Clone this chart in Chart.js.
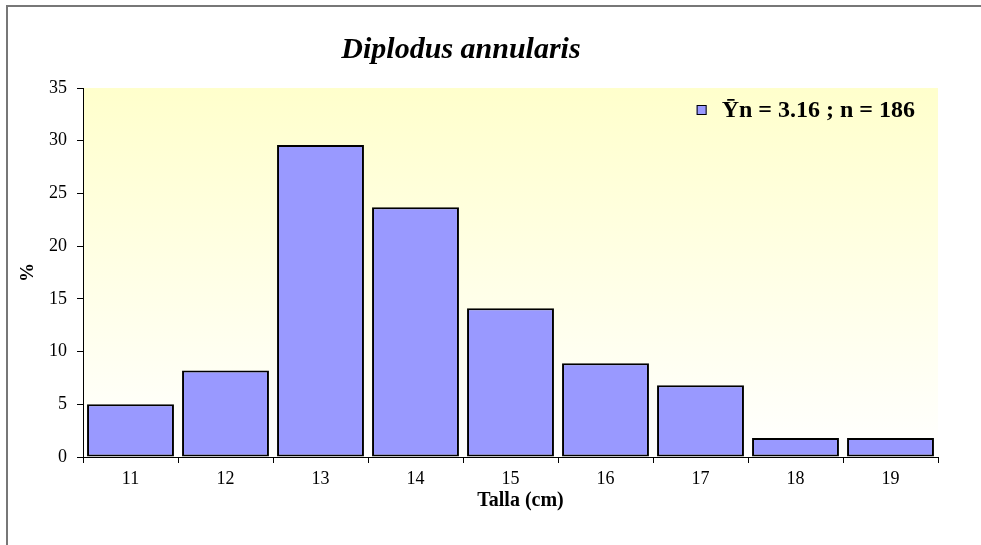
<!DOCTYPE html>
<html>
<head>
<meta charset="utf-8">
<title>Diplodus annularis</title>
<script src="https://cdn.jsdelivr.net/npm/chart.js@4.4.1/dist/chart.umd.min.js"></script>
<style>
    html, body { margin: 0; padding: 0; background: #fff; }
    #wrap { position: relative; width: 981px; height: 545px; overflow: hidden; }
    #frame {
        position: absolute; left: 6px; top: 5px; width: 1000px; height: 600px;
        border-left: 2px solid #777; border-top: 2px solid #777;
        pointer-events: none;
    }
</style>
</head>
<body>
<div id="wrap">
    <canvas id="chart" width="981" height="545"></canvas>
    <div id="frame"></div>
</div>
<script>
// =====================================
// Data
// =====================================
const tallas = ["11", "12", "13", "14", "15", "16", "17", "18", "19"];
const porcentajes = [5.0, 8.2, 29.6, 23.7, 14.1, 8.9, 6.8, 1.8, 1.8];
const yTicks = [0, 5, 10, 15, 20, 25, 30, 35];
const serieLabel = "Ȳn = 3.16 ; n = 186";

const SERIF = "'Liberation Serif', 'Times New Roman', serif";

// yellow -> white fill behind the bars
const plotBackground = {
    id: "plotBackground",
    beforeDraw(chart) {
        const { ctx, chartArea: a } = chart;
        const g = ctx.createLinearGradient(0, a.top, 0, a.bottom);
        g.addColorStop(0, "#FFFFCC");
        g.addColorStop(1, "#FFFFFF");
        ctx.save();
        ctx.fillStyle = g;
        ctx.fillRect(a.left, a.top, a.right - a.left, a.bottom - a.top);
        ctx.restore();
    }
};

// legend sits inside the plot, top right
const insideLegend = {
    id: "insideLegend",
    afterDraw(chart) {
        const { ctx, chartArea: a } = chart;
        const ds = chart.data.datasets[0];
        ctx.save();
        ctx.font = "bold 24px " + SERIF;
        ctx.textBaseline = "middle";
        ctx.textAlign = "left";
        const w = ctx.measureText(ds.label).width;
        const textX = a.right - 23 - w;
        const y = a.top + 23;
        ctx.fillStyle = ds.backgroundColor;
        ctx.fillRect(textX - 25, y - 6, 10, 10);
        ctx.strokeStyle = "#000";
        ctx.lineWidth = 1;
        ctx.strokeRect(textX - 24.5, y - 5.5, 9, 9);
        ctx.fillStyle = "#000";
        ctx.fillText(ds.label, textX, y);
        ctx.restore();
    }
};

const ctx = document.getElementById("chart").getContext("2d");
new Chart(ctx, {
    type: "bar",
    data: {
        labels: tallas,
        datasets: [{
            label: serieLabel,
            data: porcentajes,
            backgroundColor: "#9999FF",
            borderColor: "#000000",
            borderWidth: 2,
            borderSkipped: false,
            categoryPercentage: 1.0,
            barPercentage: 0.915
        }]
    },
    options: {
        responsive: false,
        animation: false,
        layout: { padding: { left: -16, right: 43, top: 0, bottom: 30 } },
        plugins: {
            legend: { display: false },
            tooltip: { enabled: false },
            title: {
                display: true,
                text: "Diplodus annularis",
                color: "#000",
                font: { family: SERIF, size: 30, weight: "bold", style: "italic" },
                padding: { top: 32, bottom: 20 }
            }
        },
        scales: {
            x: {
                afterFit: s => { s.height = 58; },
                border: { display: true, color: "#000", width: 1 },
                grid: { drawOnChartArea: false, drawTicks: true, tickLength: 6, tickColor: "#000", offset: true },
                ticks: { color: "#000", padding: 5, font: { family: SERIF, size: 18 } },
                title: {
                    display: true,
                    text: "    Talla (cm)",
                    color: "#000",
                    padding: { top: 0, bottom: 2 },
                    font: { family: SERIF, size: 20, weight: "bold" }
                }
            },
            y: {
                min: 0,
                max: 35,
                afterFit: s => { s.width = 99; },
                afterBuildTicks: s => { s.ticks = yTicks.map(v => ({ value: v })); },
                border: { display: true, color: "#000", width: 1 },
                grid: { drawOnChartArea: false, drawTicks: true, tickLength: 6, tickColor: "#000" },
                ticks: { color: "#000", padding: 10, font: { family: SERIF, size: 18 } },
                title: {
                    display: true,
                    text: "%",
                    color: "#000",
                    padding: { top: 33, bottom: 0 },
                    font: { family: SERIF, size: 19, weight: "bold" }
                }
            }
        }
    },
    plugins: [plotBackground, insideLegend]
});
</script>
</body>
</html>
